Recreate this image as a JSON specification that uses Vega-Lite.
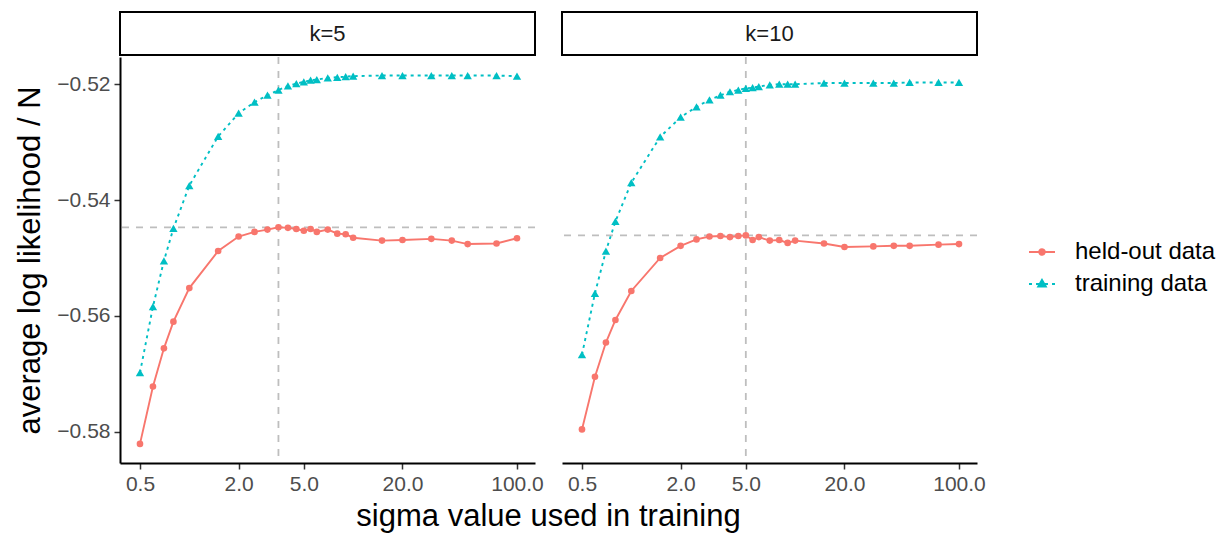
{
  "$schema": "https://vega.github.io/schema/vega-lite/v6.json",
  "background": "white",
  "padding": {"left": 14, "top": 11, "right": 5, "bottom": 5},
  "datasets": {
    "main": [
      {"k":"k=5","sigma":0.5,"held-out data":-0.5821,"training data":-0.5698},
      {"k":"k=5","sigma":0.6,"held-out data":-0.5722,"training data":-0.5584},
      {"k":"k=5","sigma":0.7,"held-out data":-0.5656,"training data":-0.5505},
      {"k":"k=5","sigma":0.8,"held-out data":-0.5610,"training data":-0.5449},
      {"k":"k=5","sigma":1,"held-out data":-0.5552,"training data":-0.5375},
      {"k":"k=5","sigma":1.5,"held-out data":-0.5488,"training data":-0.5290},
      {"k":"k=5","sigma":2,"held-out data":-0.5463,"training data":-0.5250},
      {"k":"k=5","sigma":2.5,"held-out data":-0.5455,"training data":-0.5231},
      {"k":"k=5","sigma":3,"held-out data":-0.5451,"training data":-0.5219},
      {"k":"k=5","sigma":3.5,"held-out data":-0.5447,"training data":-0.5210},
      {"k":"k=5","sigma":4,"held-out data":-0.5448,"training data":-0.5203},
      {"k":"k=5","sigma":4.5,"held-out data":-0.5450,"training data":-0.5199},
      {"k":"k=5","sigma":5,"held-out data":-0.5453,"training data":-0.5196},
      {"k":"k=5","sigma":5.5,"held-out data":-0.5450,"training data":-0.5193},
      {"k":"k=5","sigma":6,"held-out data":-0.5455,"training data":-0.5192},
      {"k":"k=5","sigma":7,"held-out data":-0.5451,"training data":-0.5189},
      {"k":"k=5","sigma":8,"held-out data":-0.5458,"training data":-0.5188},
      {"k":"k=5","sigma":9,"held-out data":-0.5459,"training data":-0.5187},
      {"k":"k=5","sigma":10,"held-out data":-0.5465,"training data":-0.5186},
      {"k":"k=5","sigma":15,"held-out data":-0.5470,"training data":-0.5185},
      {"k":"k=5","sigma":20,"held-out data":-0.5469,"training data":-0.5185},
      {"k":"k=5","sigma":30,"held-out data":-0.5467,"training data":-0.5185},
      {"k":"k=5","sigma":40,"held-out data":-0.5470,"training data":-0.5185},
      {"k":"k=5","sigma":50,"held-out data":-0.5476,"training data":-0.5185},
      {"k":"k=5","sigma":75,"held-out data":-0.5475,"training data":-0.5185},
      {"k":"k=5","sigma":100,"held-out data":-0.5466,"training data":-0.5186},
      {"k":"k=10","sigma":0.5,"held-out data":-0.5796,"training data":-0.5667},
      {"k":"k=10","sigma":0.6,"held-out data":-0.5705,"training data":-0.5561},
      {"k":"k=10","sigma":0.7,"held-out data":-0.5646,"training data":-0.5488},
      {"k":"k=10","sigma":0.8,"held-out data":-0.5607,"training data":-0.5437},
      {"k":"k=10","sigma":1,"held-out data":-0.5557,"training data":-0.5370},
      {"k":"k=10","sigma":1.5,"held-out data":-0.5500,"training data":-0.5291},
      {"k":"k=10","sigma":2,"held-out data":-0.5479,"training data":-0.5257},
      {"k":"k=10","sigma":2.5,"held-out data":-0.5468,"training data":-0.5239},
      {"k":"k=10","sigma":3,"held-out data":-0.5463,"training data":-0.5227},
      {"k":"k=10","sigma":3.5,"held-out data":-0.5462,"training data":-0.5219},
      {"k":"k=10","sigma":4,"held-out data":-0.5464,"training data":-0.5213},
      {"k":"k=10","sigma":4.5,"held-out data":-0.5462,"training data":-0.5210},
      {"k":"k=10","sigma":5,"held-out data":-0.5461,"training data":-0.5207},
      {"k":"k=10","sigma":5.5,"held-out data":-0.5469,"training data":-0.5206},
      {"k":"k=10","sigma":6,"held-out data":-0.5464,"training data":-0.5204},
      {"k":"k=10","sigma":7,"held-out data":-0.5470,"training data":-0.5201},
      {"k":"k=10","sigma":8,"held-out data":-0.5469,"training data":-0.5200},
      {"k":"k=10","sigma":9,"held-out data":-0.5474,"training data":-0.5200},
      {"k":"k=10","sigma":10,"held-out data":-0.5470,"training data":-0.5200},
      {"k":"k=10","sigma":15,"held-out data":-0.5475,"training data":-0.5198},
      {"k":"k=10","sigma":20,"held-out data":-0.5481,"training data":-0.5198},
      {"k":"k=10","sigma":30,"held-out data":-0.5480,"training data":-0.5198},
      {"k":"k=10","sigma":40,"held-out data":-0.5479,"training data":-0.5198},
      {"k":"k=10","sigma":50,"held-out data":-0.5479,"training data":-0.5197},
      {"k":"k=10","sigma":75,"held-out data":-0.5477,"training data":-0.5197},
      {"k":"k=10","sigma":100,"held-out data":-0.5476,"training data":-0.5197}
    ],
    "ref": [
      {"k":"k=5","sigma":3.5,"value":-0.5447},
      {"k":"k=10","sigma":5,"value":-0.5461}
    ],
    "strips": [{"k":"k=5"},{"k":"k=10"}]
  },
  "config": {
    "font": "Liberation Sans",
    "view": {"stroke": null},
    "axis": {
      "grid": false,
      "domainColor": "black",
      "domainWidth": 2,
      "tickColor": "#333333",
      "tickWidth": 1.5,
      "tickSize": 6,
      "labelColor": "#4D4D4D",
      "labelFontSize": 21,
      "labelPadding": 4,
      "titleFontSize": 31,
      "titleFontWeight": "normal",
      "titleColor": "black"
    }
  },
  "columns": 2,
  "bounds": "flush",
  "spacing": {"row": 2, "column": 27},
  "resolve": {"scale": {"x": "independent", "y": "independent", "color": "shared"}},
  "concat": [
    {
      "width": 415, "height": 43,
      "data": {"name": "strips"},
      "transform": [{"filter": "datum.k === 'k=5'"}],
      "view": {"stroke": "black", "strokeWidth": 2},
      "mark": {"type": "text", "fontSize": 22, "color": "#1A1A1A"},
      "encoding": {"text": {"field": "k", "type": "nominal"}}
    },
    {
      "width": 415, "height": 43,
      "data": {"name": "strips"},
      "transform": [{"filter": "datum.k === 'k=10'"}],
      "view": {"stroke": "black", "strokeWidth": 2},
      "mark": {"type": "text", "fontSize": 22, "color": "#1A1A1A"},
      "encoding": {"text": {"field": "k", "type": "nominal"}}
    },
    {
      "width": 415, "height": 406,
      "layer": [
        {
          "data": {"name": "ref"},
          "transform": [{"filter": "datum.k === 'k=5'"}],
          "mark": {"type": "rule", "color": "#BEBEBE", "strokeWidth": 1.8, "strokeDash": [7, 7]},
          "encoding": {
            "x": {"field": "sigma", "type": "quantitative", "scale": {"type": "log", "domain": [0.3776, 128.8], "nice": false},
              "axis": {"values": [0.5, 2, 5, 20, 100], "format": ".1f", "title": "sigma value used in training", "titleX": 428, "titlePadding": 7}}
          }
        },
        {
          "data": {"name": "ref"},
          "transform": [{"filter": "datum.k === 'k=5'"}],
          "mark": {"type": "rule", "color": "#BEBEBE", "strokeWidth": 1.8, "strokeDash": [7, 7]},
          "encoding": {
            "y": {"field": "value", "type": "quantitative", "scale": {"domain": [-0.5854, -0.5153], "nice": false, "zero": false},
              "axis": {"values": [-0.58, -0.56, -0.54, -0.52], "format": ".2f", "title": "average log likelihood / N", "titlePadding": 10}}
          }
        },
        {
          "data": {"name": "main"},
          "transform": [{"filter": "datum.k === 'k=5'"}, {"fold": ["held-out data", "training data"], "as": ["series", "value"]}, {"filter": "datum.series === 'held-out data'"}],
          "mark": {"type": "line", "strokeWidth": 1.9},
          "encoding": {
            "x": {"field": "sigma", "type": "quantitative", "scale": {"type": "log", "domain": [0.3776, 128.8], "nice": false},
              "axis": {"values": [0.5, 2, 5, 20, 100], "format": ".1f", "title": "sigma value used in training", "titleX": 428, "titlePadding": 7}},
            "y": {"field": "value", "type": "quantitative", "scale": {"domain": [-0.5854, -0.5153], "nice": false, "zero": false},
              "axis": {"values": [-0.58, -0.56, -0.54, -0.52], "format": ".2f", "title": "average log likelihood / N", "titlePadding": 10}},
            "color": {"field": "series", "type": "nominal", "scale": {"domain": ["held-out data", "training data"], "range": ["#F8766D", "#00BFC4"]},
              "legend": {"orient": "none", "legendX": 908, "legendY": 226, "title": null, "padding": 0, "symbolSize": 676, "labelFontSize": 24, "labelColor": "black", "labelOffset": 19, "rowPadding": 6,
                "encode": {"symbols": {"update": {
                  "shape": {"signal": "datum.value === 'held-out data' ? 'M-1,0L1,0M0.22,0A0.22,0.22,0,1,1,-0.22,0A0.22,0.22,0,1,1,0.22,0Z' : 'M-1,0L-0.77,0M-0.46,0L-0.23,0M0.23,0L0.46,0M0.77,0L1,0M0,-0.33L0.3,0.2L-0.3,0.2Z'"},
                  "fill": {"signal": "scale('color', datum.value)"},
                  "stroke": {"signal": "scale('color', datum.value)"},
                  "strokeWidth": {"value": 1.8},
                  "strokeDash": {"value": [1, 0]},
                  "opacity": {"value": 1},
                  "fillOpacity": {"value": 1},
                  "strokeOpacity": {"value": 1}
                }}}}}
          }
        },
        {
          "data": {"name": "main"},
          "transform": [{"filter": "datum.k === 'k=5'"}, {"fold": ["held-out data", "training data"], "as": ["series", "value"]}, {"filter": "datum.series === 'training data'"}],
          "mark": {"type": "line", "strokeWidth": 1.9, "strokeDash": [3, 4]},
          "encoding": {
            "x": {"field": "sigma", "type": "quantitative", "scale": {"type": "log", "domain": [0.3776, 128.8], "nice": false},
              "axis": {"values": [0.5, 2, 5, 20, 100], "format": ".1f", "title": "sigma value used in training", "titleX": 428, "titlePadding": 7}},
            "y": {"field": "value", "type": "quantitative", "scale": {"domain": [-0.5854, -0.5153], "nice": false, "zero": false},
              "axis": {"values": [-0.58, -0.56, -0.54, -0.52], "format": ".2f", "title": "average log likelihood / N", "titlePadding": 10}},
            "color": {"field": "series", "type": "nominal", "scale": {"domain": ["held-out data", "training data"], "range": ["#F8766D", "#00BFC4"]},
              "legend": {"orient": "none", "legendX": 908, "legendY": 226, "title": null, "padding": 0, "symbolSize": 676, "labelFontSize": 24, "labelColor": "black", "labelOffset": 19, "rowPadding": 6,
                "encode": {"symbols": {"update": {
                  "shape": {"signal": "datum.value === 'held-out data' ? 'M-1,0L1,0M0.22,0A0.22,0.22,0,1,1,-0.22,0A0.22,0.22,0,1,1,0.22,0Z' : 'M-1,0L-0.77,0M-0.46,0L-0.23,0M0.23,0L0.46,0M0.77,0L1,0M0,-0.33L0.3,0.2L-0.3,0.2Z'"},
                  "fill": {"signal": "scale('color', datum.value)"},
                  "stroke": {"signal": "scale('color', datum.value)"},
                  "strokeWidth": {"value": 1.8},
                  "strokeDash": {"value": [1, 0]},
                  "opacity": {"value": 1},
                  "fillOpacity": {"value": 1},
                  "strokeOpacity": {"value": 1}
                }}}}}
          }
        },
        {
          "data": {"name": "main"},
          "transform": [{"filter": "datum.k === 'k=5'"}, {"fold": ["held-out data", "training data"], "as": ["series", "value"]}, {"filter": "datum.series === 'held-out data'"}],
          "mark": {"type": "point", "filled": true, "opacity": 1, "size": 44, "shape": "circle"},
          "encoding": {
            "x": {"field": "sigma", "type": "quantitative", "scale": {"type": "log", "domain": [0.3776, 128.8], "nice": false},
              "axis": {"values": [0.5, 2, 5, 20, 100], "format": ".1f", "title": "sigma value used in training", "titleX": 428, "titlePadding": 7}},
            "y": {"field": "value", "type": "quantitative", "scale": {"domain": [-0.5854, -0.5153], "nice": false, "zero": false},
              "axis": {"values": [-0.58, -0.56, -0.54, -0.52], "format": ".2f", "title": "average log likelihood / N", "titlePadding": 10}},
            "color": {"field": "series", "type": "nominal", "scale": {"domain": ["held-out data", "training data"], "range": ["#F8766D", "#00BFC4"]},
              "legend": {"orient": "none", "legendX": 908, "legendY": 226, "title": null, "padding": 0, "symbolSize": 676, "labelFontSize": 24, "labelColor": "black", "labelOffset": 19, "rowPadding": 6,
                "encode": {"symbols": {"update": {
                  "shape": {"signal": "datum.value === 'held-out data' ? 'M-1,0L1,0M0.22,0A0.22,0.22,0,1,1,-0.22,0A0.22,0.22,0,1,1,0.22,0Z' : 'M-1,0L-0.77,0M-0.46,0L-0.23,0M0.23,0L0.46,0M0.77,0L1,0M0,-0.33L0.3,0.2L-0.3,0.2Z'"},
                  "fill": {"signal": "scale('color', datum.value)"},
                  "stroke": {"signal": "scale('color', datum.value)"},
                  "strokeWidth": {"value": 1.8},
                  "strokeDash": {"value": [1, 0]},
                  "opacity": {"value": 1},
                  "fillOpacity": {"value": 1},
                  "strokeOpacity": {"value": 1}
                }}}}}
          }
        },
        {
          "data": {"name": "main"},
          "transform": [{"filter": "datum.k === 'k=5'"}, {"fold": ["held-out data", "training data"], "as": ["series", "value"]}, {"filter": "datum.series === 'training data'"}],
          "mark": {"type": "point", "filled": true, "opacity": 1, "size": 70, "shape": "triangle-up"},
          "encoding": {
            "x": {"field": "sigma", "type": "quantitative", "scale": {"type": "log", "domain": [0.3776, 128.8], "nice": false},
              "axis": {"values": [0.5, 2, 5, 20, 100], "format": ".1f", "title": "sigma value used in training", "titleX": 428, "titlePadding": 7}},
            "y": {"field": "value", "type": "quantitative", "scale": {"domain": [-0.5854, -0.5153], "nice": false, "zero": false},
              "axis": {"values": [-0.58, -0.56, -0.54, -0.52], "format": ".2f", "title": "average log likelihood / N", "titlePadding": 10}},
            "color": {"field": "series", "type": "nominal", "scale": {"domain": ["held-out data", "training data"], "range": ["#F8766D", "#00BFC4"]},
              "legend": {"orient": "none", "legendX": 908, "legendY": 226, "title": null, "padding": 0, "symbolSize": 676, "labelFontSize": 24, "labelColor": "black", "labelOffset": 19, "rowPadding": 6,
                "encode": {"symbols": {"update": {
                  "shape": {"signal": "datum.value === 'held-out data' ? 'M-1,0L1,0M0.22,0A0.22,0.22,0,1,1,-0.22,0A0.22,0.22,0,1,1,0.22,0Z' : 'M-1,0L-0.77,0M-0.46,0L-0.23,0M0.23,0L0.46,0M0.77,0L1,0M0,-0.33L0.3,0.2L-0.3,0.2Z'"},
                  "fill": {"signal": "scale('color', datum.value)"},
                  "stroke": {"signal": "scale('color', datum.value)"},
                  "strokeWidth": {"value": 1.8},
                  "strokeDash": {"value": [1, 0]},
                  "opacity": {"value": 1},
                  "fillOpacity": {"value": 1},
                  "strokeOpacity": {"value": 1}
                }}}}}
          }
        }
      ]
    },
    {
      "width": 415, "height": 406,
      "layer": [
        {
          "data": {"name": "ref"},
          "transform": [{"filter": "datum.k === 'k=10'"}],
          "mark": {"type": "rule", "color": "#BEBEBE", "strokeWidth": 1.8, "strokeDash": [7, 7]},
          "encoding": {
            "x": {"field": "sigma", "type": "quantitative", "scale": {"type": "log", "domain": [0.3776, 128.8], "nice": false},
              "axis": {"values": [0.5, 2, 5, 20, 100], "format": ".1f", "title": null}}
          }
        },
        {
          "data": {"name": "ref"},
          "transform": [{"filter": "datum.k === 'k=10'"}],
          "mark": {"type": "rule", "color": "#BEBEBE", "strokeWidth": 1.8, "strokeDash": [7, 7]},
          "encoding": {
            "y": {"field": "value", "type": "quantitative", "scale": {"domain": [-0.5854, -0.5153], "nice": false, "zero": false}, "axis": null}
          }
        },
        {
          "data": {"name": "main"},
          "transform": [{"filter": "datum.k === 'k=10'"}, {"fold": ["held-out data", "training data"], "as": ["series", "value"]}, {"filter": "datum.series === 'held-out data'"}],
          "mark": {"type": "line", "strokeWidth": 1.9},
          "encoding": {
            "x": {"field": "sigma", "type": "quantitative", "scale": {"type": "log", "domain": [0.3776, 128.8], "nice": false},
              "axis": {"values": [0.5, 2, 5, 20, 100], "format": ".1f", "title": null}},
            "y": {"field": "value", "type": "quantitative", "scale": {"domain": [-0.5854, -0.5153], "nice": false, "zero": false}, "axis": null},
            "color": {"field": "series", "type": "nominal", "scale": {"domain": ["held-out data", "training data"], "range": ["#F8766D", "#00BFC4"]},
              "legend": {"orient": "none", "legendX": 908, "legendY": 226, "title": null, "padding": 0, "symbolSize": 676, "labelFontSize": 24, "labelColor": "black", "labelOffset": 19, "rowPadding": 6,
                "encode": {"symbols": {"update": {
                  "shape": {"signal": "datum.value === 'held-out data' ? 'M-1,0L1,0M0.22,0A0.22,0.22,0,1,1,-0.22,0A0.22,0.22,0,1,1,0.22,0Z' : 'M-1,0L-0.77,0M-0.46,0L-0.23,0M0.23,0L0.46,0M0.77,0L1,0M0,-0.33L0.3,0.2L-0.3,0.2Z'"},
                  "fill": {"signal": "scale('color', datum.value)"},
                  "stroke": {"signal": "scale('color', datum.value)"},
                  "strokeWidth": {"value": 1.8},
                  "strokeDash": {"value": [1, 0]},
                  "opacity": {"value": 1},
                  "fillOpacity": {"value": 1},
                  "strokeOpacity": {"value": 1}
                }}}}}
          }
        },
        {
          "data": {"name": "main"},
          "transform": [{"filter": "datum.k === 'k=10'"}, {"fold": ["held-out data", "training data"], "as": ["series", "value"]}, {"filter": "datum.series === 'training data'"}],
          "mark": {"type": "line", "strokeWidth": 1.9, "strokeDash": [3, 4]},
          "encoding": {
            "x": {"field": "sigma", "type": "quantitative", "scale": {"type": "log", "domain": [0.3776, 128.8], "nice": false},
              "axis": {"values": [0.5, 2, 5, 20, 100], "format": ".1f", "title": null}},
            "y": {"field": "value", "type": "quantitative", "scale": {"domain": [-0.5854, -0.5153], "nice": false, "zero": false}, "axis": null},
            "color": {"field": "series", "type": "nominal", "scale": {"domain": ["held-out data", "training data"], "range": ["#F8766D", "#00BFC4"]},
              "legend": {"orient": "none", "legendX": 908, "legendY": 226, "title": null, "padding": 0, "symbolSize": 676, "labelFontSize": 24, "labelColor": "black", "labelOffset": 19, "rowPadding": 6,
                "encode": {"symbols": {"update": {
                  "shape": {"signal": "datum.value === 'held-out data' ? 'M-1,0L1,0M0.22,0A0.22,0.22,0,1,1,-0.22,0A0.22,0.22,0,1,1,0.22,0Z' : 'M-1,0L-0.77,0M-0.46,0L-0.23,0M0.23,0L0.46,0M0.77,0L1,0M0,-0.33L0.3,0.2L-0.3,0.2Z'"},
                  "fill": {"signal": "scale('color', datum.value)"},
                  "stroke": {"signal": "scale('color', datum.value)"},
                  "strokeWidth": {"value": 1.8},
                  "strokeDash": {"value": [1, 0]},
                  "opacity": {"value": 1},
                  "fillOpacity": {"value": 1},
                  "strokeOpacity": {"value": 1}
                }}}}}
          }
        },
        {
          "data": {"name": "main"},
          "transform": [{"filter": "datum.k === 'k=10'"}, {"fold": ["held-out data", "training data"], "as": ["series", "value"]}, {"filter": "datum.series === 'held-out data'"}],
          "mark": {"type": "point", "filled": true, "opacity": 1, "size": 44, "shape": "circle"},
          "encoding": {
            "x": {"field": "sigma", "type": "quantitative", "scale": {"type": "log", "domain": [0.3776, 128.8], "nice": false},
              "axis": {"values": [0.5, 2, 5, 20, 100], "format": ".1f", "title": null}},
            "y": {"field": "value", "type": "quantitative", "scale": {"domain": [-0.5854, -0.5153], "nice": false, "zero": false}, "axis": null},
            "color": {"field": "series", "type": "nominal", "scale": {"domain": ["held-out data", "training data"], "range": ["#F8766D", "#00BFC4"]},
              "legend": {"orient": "none", "legendX": 908, "legendY": 226, "title": null, "padding": 0, "symbolSize": 676, "labelFontSize": 24, "labelColor": "black", "labelOffset": 19, "rowPadding": 6,
                "encode": {"symbols": {"update": {
                  "shape": {"signal": "datum.value === 'held-out data' ? 'M-1,0L1,0M0.22,0A0.22,0.22,0,1,1,-0.22,0A0.22,0.22,0,1,1,0.22,0Z' : 'M-1,0L-0.77,0M-0.46,0L-0.23,0M0.23,0L0.46,0M0.77,0L1,0M0,-0.33L0.3,0.2L-0.3,0.2Z'"},
                  "fill": {"signal": "scale('color', datum.value)"},
                  "stroke": {"signal": "scale('color', datum.value)"},
                  "strokeWidth": {"value": 1.8},
                  "strokeDash": {"value": [1, 0]},
                  "opacity": {"value": 1},
                  "fillOpacity": {"value": 1},
                  "strokeOpacity": {"value": 1}
                }}}}}
          }
        },
        {
          "data": {"name": "main"},
          "transform": [{"filter": "datum.k === 'k=10'"}, {"fold": ["held-out data", "training data"], "as": ["series", "value"]}, {"filter": "datum.series === 'training data'"}],
          "mark": {"type": "point", "filled": true, "opacity": 1, "size": 70, "shape": "triangle-up"},
          "encoding": {
            "x": {"field": "sigma", "type": "quantitative", "scale": {"type": "log", "domain": [0.3776, 128.8], "nice": false},
              "axis": {"values": [0.5, 2, 5, 20, 100], "format": ".1f", "title": null}},
            "y": {"field": "value", "type": "quantitative", "scale": {"domain": [-0.5854, -0.5153], "nice": false, "zero": false}, "axis": null},
            "color": {"field": "series", "type": "nominal", "scale": {"domain": ["held-out data", "training data"], "range": ["#F8766D", "#00BFC4"]},
              "legend": {"orient": "none", "legendX": 908, "legendY": 226, "title": null, "padding": 0, "symbolSize": 676, "labelFontSize": 24, "labelColor": "black", "labelOffset": 19, "rowPadding": 6,
                "encode": {"symbols": {"update": {
                  "shape": {"signal": "datum.value === 'held-out data' ? 'M-1,0L1,0M0.22,0A0.22,0.22,0,1,1,-0.22,0A0.22,0.22,0,1,1,0.22,0Z' : 'M-1,0L-0.77,0M-0.46,0L-0.23,0M0.23,0L0.46,0M0.77,0L1,0M0,-0.33L0.3,0.2L-0.3,0.2Z'"},
                  "fill": {"signal": "scale('color', datum.value)"},
                  "stroke": {"signal": "scale('color', datum.value)"},
                  "strokeWidth": {"value": 1.8},
                  "strokeDash": {"value": [1, 0]},
                  "opacity": {"value": 1},
                  "fillOpacity": {"value": 1},
                  "strokeOpacity": {"value": 1}
                }}}}}
          }
        }
      ]
    }
  ]
}
